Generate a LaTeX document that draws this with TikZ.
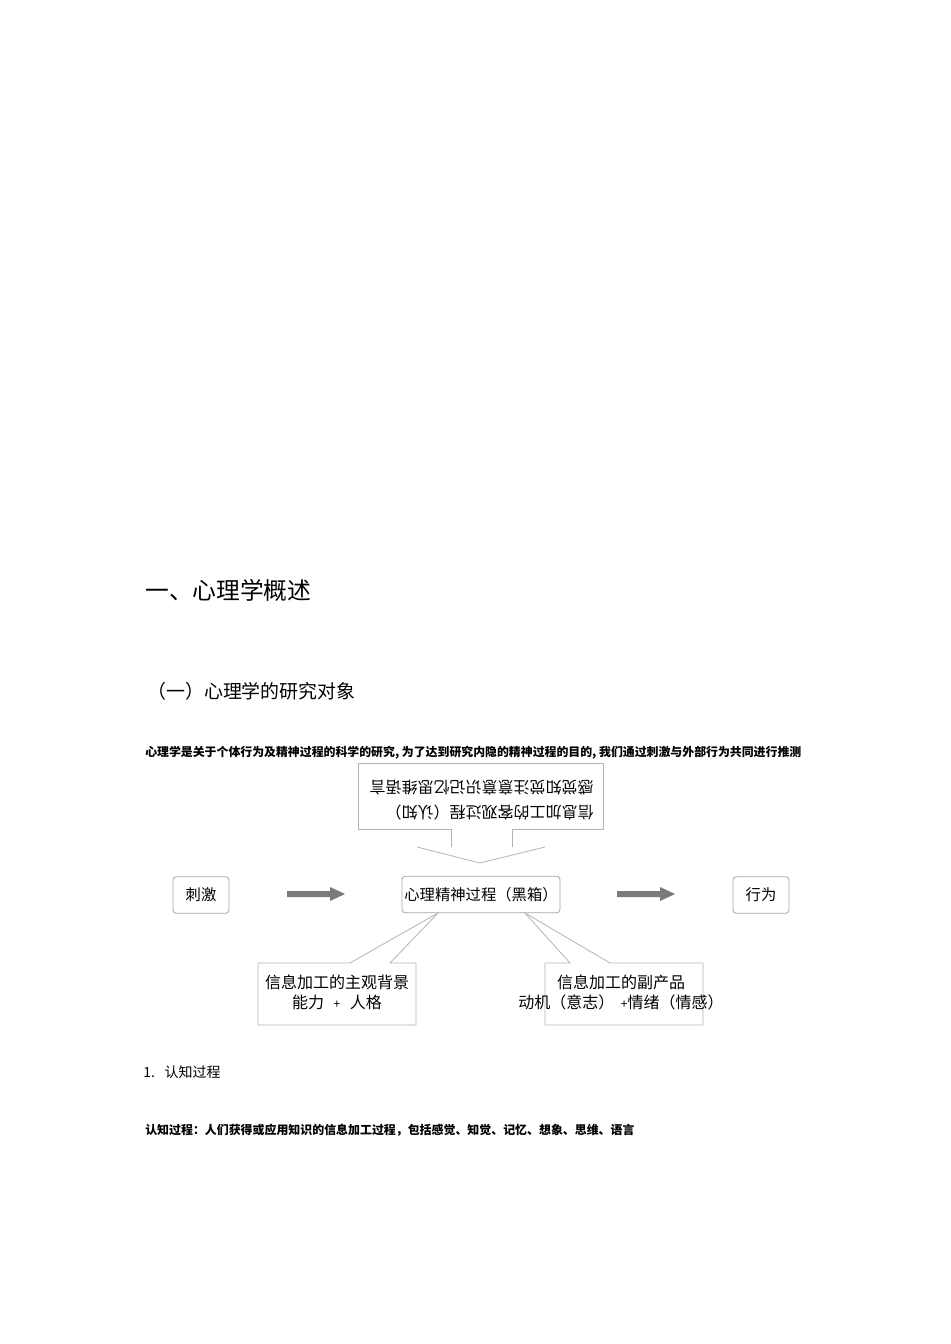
\documentclass[tikz,border=0pt]{standalone}
\usepackage{fontspec}
\setmainfont{Noto Sans CJK SC}
\definecolor{boxgray}{HTML}{A6A6A6}
\definecolor{callgray}{HTML}{B4B4B4}
\definecolor{arrowgray}{HTML}{7A7A7A}
\begin{document}
\begin{tikzpicture}[x=0.75pt,y=-0.75pt,
  lab/.style={inner sep=0pt, anchor=west},
  rbox/.style={draw=boxgray, rounded corners=2.5pt, line width=0.6pt, inner sep=0pt, minimum height=27.5pt, font=\fontsize{11.5}{13}\selectfont},
  callline/.style={draw=callgray, line width=0.6pt, line join=miter},
  garrow/.style={fill=arrowgray, draw=none},
  ctext/.style={align=center, inner sep=0pt, font=\fontsize{12}{15}\selectfont}]
\useasboundingbox (0,0) rectangle (950,1344);
\fill[white] (0,0) rectangle (950,1344);

% headings and paragraphs
\node[lab, font=\fontsize{17.8}{21}\selectfont] (t1) at (145,590) {一、心理学概述};
\node[lab, font=\fontsize{14.2}{17}\selectfont] (t2) at (147,691) {（一）心理学的研究对象};
\node[lab, font=\bfseries\fontsize{8.92}{11}\selectfont] (p1) at (145,753) {心理学是关于个体行为及精神过程的科学的研究, 为了达到研究内隐的精神过程的目的, 我们通过刺激与外部行为共同进行推测};
\node[lab, font=\fontsize{10.5}{13}\selectfont] (t3) at (143,1072) {1.\hspace{0.7em}认知过程};
\node[lab, font=\bfseries\fontsize{8.95}{11}\selectfont] (p2) at (145,1130) {认知过程：人们获得或应用知识的信息加工过程，包括感觉、知觉、记忆、想象、思维、语言};

% main boxes
\node[rbox, minimum width=42pt] (stim) at (201,895) {刺激};
\node[rbox, minimum width=118.5pt] (mind) at (481,894.5) {心理精神过程（黑箱）};
\node[rbox, minimum width=42pt] (beh) at (761,895) {行为};

% block arrows
\coordinate (a1) at (287,894);
\coordinate (a2) at (617,894);
\fill[garrow] (a1) ++(0,-3) -- ++(43,0) -- ++(0,-4) -- ++(15,7) -- ++(-15,7) -- ++(0,-4) -- ++(-43,0) -- cycle;
\fill[garrow] (a2) ++(0,-3) -- ++(43,0) -- ++(0,-4) -- ++(15,7) -- ++(-15,7) -- ++(0,-4) -- ++(-43,0) -- cycle;

% top callout (rotated content)
\draw[callline] (451,829) -- (358,829) -- (358,763) -- (603,763) -- (603,829) -- (512,829) -- (512,847);
\draw[callline] (451,829) -- (451,847);
\draw[callline] (417,847) -- (480,863) -- (545,847);
\node[align=left, inner sep=0pt, rotate=180, font=\fontsize{12}{18.75}\selectfont] (cog) at (481.5,800.5) {信息加工的客观过程（认知）\\感觉知觉注意意识记忆思维语言};

% bottom-left callout
\draw[callline] (350,963) -- (258,963) -- (258,1025) -- (416,1025) -- (416,963) -- (390,963) -- (438,913) -- cycle;
\node[ctext] (subj) at (337,992) {信息加工的主观背景\\能力\hspace{0.6em}{\fontsize{9}{9}\selectfont+}\hspace{0.6em}人格};

% bottom-right callout
\draw[callline] (570,963) -- (545,963) -- (545,1025) -- (703,1025) -- (703,963) -- (610,963) -- (525,913) -- cycle;
\node[ctext] (side) at (621,992) {信息加工的副产品\\动机（意志）\hspace{0.4em}{\fontsize{9}{9}\selectfont+}情绪（情感）};
\end{tikzpicture}
\end{document}
